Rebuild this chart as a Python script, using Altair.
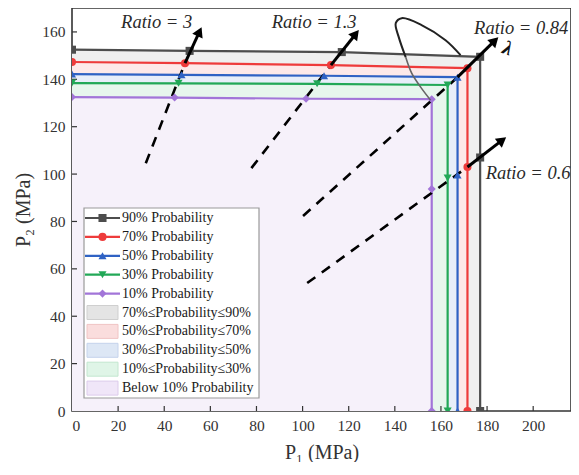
import math
import altair as alt
import pandas as pd

# ---------------- data ----------------
series = ["90% Probability", "70% Probability", "50% Probability",
          "30% Probability", "10% Probability"]
line_colors = ["#4d4d4d", "#ee3b3b", "#2f62c4", "#22a857", "#a275d8"]
marker_shapes = ["square", "circle", "triangle-up", "triangle-down", "diamond"]

p1_90 = [0, 51.0, 117.0, 177.0, 177.0, 177.0]
p2_90 = [152.5, 152.0, 151.5, 149.5, 107.0, 0]
p1_70 = [0, 49.0, 112.3, 171.5, 171.5, 171.5]
p2_70 = [147.3, 146.8, 146.0, 144.7, 103.0, 0]
p1_50 = [0, 47.5, 109.3, 167.2, 167.2, 167.2]
p2_50 = [142.2, 141.9, 141.5, 140.9, 99.6, 0]
p1_30 = [0, 46.2, 106.3, 162.9, 162.9, 162.9]
p2_30 = [138.4, 138.3, 138.1, 137.6, 98.3, 0]
p1_10 = [0, 44.5, 101.5, 156.0, 156.0, 156.0]
p2_10 = [132.5, 132.3, 131.8, 131.6, 93.7, 0]

regions = ["70%≤Probability≤90%", "50%≤Probability≤70%", "30%≤Probability≤50%",
           "10%≤Probability≤30%", "Below 10% Probability"]
region_fills = ["#efefef", "#fde9e9", "#e8eef9", "#e7f6ed", "#f6f1fa"]
swatch_fills = ["#e4e4e4", "#fadddd", "#dde7f5", "#dff5e7", "#f0e6f8"]
swatch_strokes = ["#cfcfcf", "#f0c4c4", "#c5d3ec", "#c3e6cf", "#dccbeb"]

ratio_labels = ["Ratio = 3", "Ratio = 1.3", "Ratio = 0.84", "Ratio = 0.6"]
dash_start_p1 = [32.0, 77.8, 100.2, 102.0]
dash_start_p2 = [104.6, 102.5, 82.3, 54.0]
solid_start_p1 = [49.0, 112.3, 167.2, 171.5]
solid_start_p2 = [146.8, 146.0, 140.9, 103.0]
tip_p1 = [56.2, 124.4, 184.9, 188.3]
tip_p2 = [162.0, 160.8, 157.8, 115.6]
label_p1 = [36.7, 105.0, 194.8, 197.8]
label_p2 = [164.2, 164.2, 161.7, 100.5]

lambda_p1 = [188.8]
lambda_p2 = [153.0]

loop_p1 = [168.5, 162.0, 151.6, 143.0, 140.4, 141.7, 144.7]
loop_p2 = [150.2, 156.5, 162.9, 165.8, 163.7, 157.8, 149.4]
loop2_p1 = [144.7, 147.3, 151.2, 155.5]
loop2_p2 = [149.4, 142.6, 136.7, 131.2]

x_ticks = [0, 20, 40, 60, 80, 100, 120, 140, 160, 180, 200]
y_ticks = [0, 20, 40, 60, 80, 100, 120, 140, 160]
X_MAX = 216.4
Y_MAX = 170.1

# ---------------- layout ----------------
W, H = 499, 403
FONT = "Liberation Serif"

xs = alt.Scale(domain=[0, X_MAX], nice=False, zero=False)
ys = alt.Scale(domain=[0, Y_MAX], nice=False, zero=False)
xaxis = alt.Axis(values=x_ticks, title="P₁ (MPa)", ticks=False, domain=False, grid=False,
                 labelPadding=7, titlePadding=9, format="d")
yaxis = alt.Axis(values=y_ticks, title="P₂ (MPa)", ticks=False, domain=False, grid=False,
                 labelPadding=7, titlePadding=8, format="d")


def X(f):
    return alt.X(f, type="quantitative", scale=xs, axis=xaxis)


def Y(f):
    return alt.Y(f, type="quantitative", scale=ys, axis=yaxis)


all_p1 = [p1_90, p1_70, p1_50, p1_30, p1_10]
all_p2 = [p2_90, p2_70, p2_50, p2_30, p2_10]

rows = []
for s, xs_, ys_ in zip(series, all_p1, all_p2):
    for i, (a, b) in enumerate(zip(xs_, ys_)):
        rows.append({"series": s, "idx": i, "P1": a, "P2": b})
lines_df = pd.DataFrame(rows)

color_enc = alt.Color("series:N", scale=alt.Scale(domain=series, range=line_colors), legend=None)
shape_enc = alt.Shape("series:N", scale=alt.Scale(domain=series, range=marker_shapes), legend=None)

layers = []

# fills under each curve
for s, xs_, ys_, fc in zip(series, all_p1, all_p2, region_fills):
    df = pd.DataFrame({"P1": xs_[:4], "P2": ys_[:4], "base": [0] * 4})
    layers.append(
        alt.Chart(df).mark_area(color=fc, opacity=1, clip=True).encode(
            x=X("P1"), y=Y("P2"), y2="base:Q")
    )

# inward ticks
xt_df = pd.DataFrame({"t": x_ticks[1:]})
yt_df = pd.DataFrame({"t": y_ticks[1:]})
layers.append(alt.Chart(xt_df).mark_rule(color="#333", strokeWidth=1.2).encode(
    x=X("t"), y=alt.value(H), y2=alt.value(H - 5)))
layers.append(alt.Chart(yt_df).mark_rule(color="#333", strokeWidth=1.2).encode(
    y=Y("t"), x=alt.value(0), x2=alt.value(5)))

# probability lines
layers.append(
    alt.Chart(lines_df).mark_line(strokeWidth=2.2, clip=True).encode(
        x=X("P1"), y=Y("P2"), color=color_enc, detail="series:N", order="idx:Q")
)

# dashed ratio lines
dash_rows = []
for k in range(len(ratio_labels)):
    dash_rows.append({"r": ratio_labels[k], "o": 0, "P1": dash_start_p1[k], "P2": dash_start_p2[k]})
    dash_rows.append({"r": ratio_labels[k], "o": 1, "P1": solid_start_p1[k], "P2": solid_start_p2[k]})
dash_df = pd.DataFrame(dash_rows)
layers.append(
    alt.Chart(dash_df).mark_line(color="black", strokeWidth=2.6, strokeDash=[10, 8]).encode(
        x=X("P1"), y=Y("P2"), detail="r:N", order="o:Q")
)

# markers
layers.append(
    alt.Chart(lines_df).mark_point(filled=True, opacity=1, size=65, clip=True).encode(
        x=X("P1"), y=Y("P2"), color=color_enc, shape=shape_enc)
)

# arrows
kx = W / X_MAX
ky = H / Y_MAX
arrow_rows = []
head_rows = []
for k in range(len(ratio_labels)):
    dxp = (tip_p1[k] - solid_start_p1[k]) * kx
    dyp = (tip_p2[k] - solid_start_p2[k]) * ky
    L = math.hypot(dxp, dyp)
    ux, uy = dxp / L, dyp / L
    hx = tip_p1[k] - ux * 5 / kx
    hy = tip_p2[k] - uy * 5 / ky
    ang = math.degrees(math.atan2(dxp, dyp)) % 360
    arrow_rows.append({"r": ratio_labels[k], "o": 0, "P1": solid_start_p1[k], "P2": solid_start_p2[k]})
    arrow_rows.append({"r": ratio_labels[k], "o": 1, "P1": hx, "P2": hy})
    head_rows.append({"P1": hx, "P2": hy, "ang": ang})
layers.append(
    alt.Chart(pd.DataFrame(arrow_rows)).mark_line(color="black", strokeWidth=3).encode(
        x=X("P1"), y=Y("P2"), detail="r:N", order="o:Q")
)
layers.append(
    alt.Chart(pd.DataFrame(head_rows)).mark_point(shape="triangle-up", filled=True, color="black",
                                                  opacity=1, size=130).encode(
        x=X("P1"), y=Y("P2"), angle=alt.Angle("ang:Q", scale=None))
)

# loop curve
loop_df = pd.DataFrame({"P1": loop_p1, "P2": loop_p2, "o": list(range(len(loop_p1)))})
loop2_df = pd.DataFrame({"P1": loop2_p1, "P2": loop2_p2, "o": list(range(len(loop2_p1)))})
layers.append(
    alt.Chart(loop_df).mark_line(color="#222", strokeWidth=2, interpolate="catmull-rom").encode(
        x=X("P1"), y=Y("P2"), order="o:Q")
)
layers.append(
    alt.Chart(loop2_df).mark_line(color="#666", strokeWidth=1.6, interpolate="catmull-rom").encode(
        x=X("P1"), y=Y("P2"), order="o:Q")
)

# ratio labels
lab_df = pd.DataFrame({"P1": label_p1, "P2": label_p2, "t": ratio_labels})
layers.append(
    alt.Chart(lab_df).mark_text(font=FONT, fontStyle="italic", fontSize=18.5, color="#2a2a2a").encode(
        x=X("P1"), y=Y("P2"), text="t:N")
)
lam_df = pd.DataFrame({"P1": lambda_p1, "P2": lambda_p2, "t": ["λ"]})
layers.append(
    alt.Chart(lam_df).mark_text(font=FONT, fontStyle="italic", fontWeight="bold", fontSize=20,
                                color="#111", angle=20).encode(
        x=X("P1"), y=Y("P2"), text="t:N")
)

# ---------------- legend (manual) ----------------
LEG_X0, LEG_X1, LEG_Y0, LEG_Y1 = 12, 187, 200, 390
row_y = [210 + i * 18.9 for i in range(10)]
layers.append(
    alt.Chart(pd.DataFrame({"a": [0]})).mark_rect(fill="white", stroke="#9a9a9a", strokeWidth=1.2).encode(
        x=alt.value(LEG_X0), x2=alt.value(LEG_X1), y=alt.value(LEG_Y0), y2=alt.value(LEG_Y1))
)
leg_line_df = pd.DataFrame({
    "series": series,
    "lx1": [13] * 5, "lx2": [48] * 5, "lxm": [30.5] * 5,
    "ly": row_y[:5], "tx": [50] * 5,
})
px = lambda f: alt.X(f, type="quantitative", scale=None, axis=None)
py = lambda f: alt.Y(f, type="quantitative", scale=None, axis=None)
layers.append(
    alt.Chart(leg_line_df).mark_rule(strokeWidth=2.2).encode(
        x=px("lx1"), x2="lx2:Q", y=py("ly"), color=color_enc)
)
layers.append(
    alt.Chart(leg_line_df).mark_point(filled=True, opacity=1, size=65).encode(
        x=px("lxm"), y=py("ly"), color=color_enc, shape=shape_enc)
)
layers.append(
    alt.Chart(leg_line_df).mark_text(align="left", baseline="middle", font=FONT, fontSize=14,
                                     color="#1a1a1a").encode(
        x=px("tx"), y=py("ly"), text="series:N")
)
sw_df = pd.DataFrame({
    "region": regions,
    "sx1": [15] * 5, "sx2": [46] * 5,
    "sy1": [y - 7 for y in row_y[5:]], "sy2": [y + 7 for y in row_y[5:]],
    "ty": row_y[5:], "tx": [50] * 5,
})
layers.append(
    alt.Chart(sw_df).mark_rect(strokeWidth=1).encode(
        x=px("sx1"), x2="sx2:Q", y=py("sy1"), y2="sy2:Q",
        fill=alt.Fill("region:N", scale=alt.Scale(domain=regions, range=swatch_fills), legend=None),
        stroke=alt.Stroke("region:N", scale=alt.Scale(domain=regions, range=swatch_strokes), legend=None))
)
layers.append(
    alt.Chart(sw_df).mark_text(align="left", baseline="middle", font=FONT, fontSize=14,
                               color="#1a1a1a").encode(
        x=px("tx"), y=py("ty"), text="region:N")
)

chart = alt.layer(*layers).properties(
    width=W, height=H,
    autosize=alt.AutoSizeParams(type="none"),
    padding={"left": 64, "top": 0, "right": 0, "bottom": 51},
    background="white",
).configure_view(
    stroke="#333", strokeWidth=1.6
).configure_axis(
    labelFont=FONT, labelFontSize=15.5, labelColor="#333",
    titleFont=FONT, titleFontSize=20, titleFontWeight="normal", titleColor="#333",
)

chart.save("out.html", embed_options={"renderer": "svg", "actions": False})
